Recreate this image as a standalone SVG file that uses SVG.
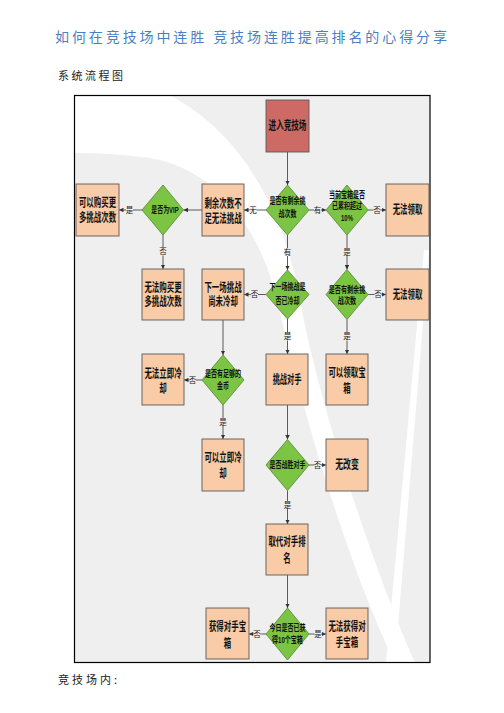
<svg xmlns="http://www.w3.org/2000/svg" width="504" height="713" viewBox="0 0 504 713">
<defs>
<style>
.box{fill:#F9CBA7;stroke:#5a5a5a;stroke-width:0.9}
.start{fill:#CD6A65;stroke:#5a5a5a;stroke-width:0.9}
.dia{fill:#7CC443;stroke:#5E8F35;stroke-width:0.9}
.bt{font-family:"Liberation Sans","Noto Sans CJK SC","Noto Sans CJK JP",sans-serif;font-size:12px;font-weight:bold;fill:#111;text-anchor:middle;dominant-baseline:central}
.dt{font-family:"Liberation Sans","Noto Sans CJK SC","Noto Sans CJK JP",sans-serif;font-size:9px;font-weight:bold;fill:#111;text-anchor:middle;dominant-baseline:central}
.ln{fill:none;stroke:#4a4a4a;stroke-width:0.9;marker-end:url(#ah)}
.lb{font-family:"Liberation Sans","Noto Sans CJK SC","Noto Sans CJK JP",sans-serif;font-size:7.5px;fill:#222;text-anchor:middle;dominant-baseline:central}
.lbg{fill:#EFEFEF}
</style>
<marker id="ah" viewBox="0 0 10 10" refX="10" refY="5" markerWidth="4.5" markerHeight="4.5" orient="auto" markerUnits="userSpaceOnUse">
<path d="M0,0 L10,5 L0,10 Z" fill="#333"/>
</marker>
<clipPath id="fc"><rect x="74.5" y="95.5" width="355.5" height="567"/></clipPath>
</defs>
<rect width="504" height="713" fill="#fff"/>
<text x="55" y="42" textLength="392" lengthAdjust="spacing" font-family="'Noto Sans CJK SC','Noto Sans CJK JP',sans-serif" font-size="14" fill="#4A7FC4">如何在竞技场中连胜 竞技场连胜提高排名的心得分享</text>
<text x="58" y="80" textLength="65" lengthAdjust="spacing" font-family="'Noto Sans CJK SC','Noto Sans CJK JP',sans-serif" font-size="11" fill="#222">系统流程图</text>
<text x="58" y="684" textLength="59" lengthAdjust="spacing" font-family="'Noto Sans CJK SC','Noto Sans CJK JP',sans-serif" font-size="11" fill="#222">竞技场内:</text>
<g id="background" clip-path="url(#fc)">
<rect x="74.5" y="95.5" width="355.5" height="567" fill="#EFEFEF"/>
<path d="M74,96 L171,96 C235,130 282,200 300,300 C318,400 370,560 415,663 L395,663 C345,560 300,400 277,300 C262,235 220,170 150,158 C120,154 95,153 74,153 Z" fill="#fff"/>
<path d="M424,250 L429,250 L395,663 L386,663 Z" fill="#fff"/>
</g>
<rect x="74.5" y="95.5" width="355.5" height="567" fill="none" stroke="#000" stroke-width="1.2"/>
<g id="connectors">
<path class="ln" d="M287.5,152 V185"/>
<path class="ln" d="M266,210 H244"/>
<path class="ln" d="M202,210 H183.5"/>
<path class="ln" d="M142,210 H119"/>
<path class="ln" d="M163,235 V269"/>
<path class="ln" d="M309,210 H326"/>
<path class="ln" d="M368,210 H386"/>
<path class="ln" d="M287.5,235 V270"/>
<path class="ln" d="M347,235 V269.5"/>
<path class="ln" d="M266,294.5 H244"/>
<path class="ln" d="M368,294.5 H386"/>
<path class="ln" d="M223,320 V355"/>
<path class="ln" d="M202,380 H184"/>
<path class="ln" d="M223,405 V439"/>
<path class="ln" d="M287.5,319 V354"/>
<path class="ln" d="M347,319.5 V354"/>
<path class="ln" d="M287.5,405 V439.5"/>
<path class="ln" d="M309,465 H326"/>
<path class="ln" d="M287.5,490.5 V524"/>
<path class="ln" d="M287.5,575 V608"/>
<path class="ln" d="M266,634 H249"/>
<path class="ln" d="M309,634 H326"/>
<rect class="lbg" x="249.5" y="206" width="7" height="8"/><text class="lb" x="253" y="210">无</text>
<rect class="lbg" x="126" y="206" width="7" height="8"/><text class="lb" x="129.5" y="210">是</text>
<rect class="lbg" x="159.5" y="247.5" width="7" height="8"/><text class="lb" x="163" y="251.5">否</text>
<rect class="lbg" x="314" y="206" width="7" height="8"/><text class="lb" x="317.5" y="210">有</text>
<rect class="lbg" x="373.5" y="206" width="7" height="8"/><text class="lb" x="377" y="210">否</text>
<rect class="lbg" x="284" y="248" width="7" height="8"/><text class="lb" x="287.5" y="252">有</text>
<rect class="lbg" x="343.5" y="248" width="7" height="8"/><text class="lb" x="347" y="252">是</text>
<rect class="lbg" x="251" y="290.5" width="7" height="8"/><text class="lb" x="254.5" y="294.5">否</text>
<rect class="lbg" x="374.5" y="290.5" width="7" height="8"/><text class="lb" x="378" y="294.5">否</text>
<rect class="lbg" x="284" y="332.5" width="7" height="8"/><text class="lb" x="287.5" y="336.5">是</text>
<rect class="lbg" x="343.5" y="332.5" width="7" height="8"/><text class="lb" x="347" y="336.5">是</text>
<rect class="lbg" x="189" y="376" width="7" height="8"/><text class="lb" x="192.5" y="380">否</text>
<rect class="lbg" x="219.5" y="418" width="7" height="8"/><text class="lb" x="223" y="422">是</text>
<rect class="lbg" x="314" y="461" width="7" height="8"/><text class="lb" x="317.5" y="465">否</text>
<rect class="lbg" x="284" y="501" width="7" height="8"/><text class="lb" x="287.5" y="505">是</text>
<rect class="lbg" x="253.5" y="630" width="7" height="8"/><text class="lb" x="257" y="634">否</text>
<rect class="lbg" x="314.5" y="630" width="7" height="8"/><text class="lb" x="318" y="634">是</text>
</g>
<g id="n1"><rect class="start" x="266" y="100" width="43" height="52"/><g transform="translate(287.5,0) scale(0.63,1)"><text class="bt" x="0" y="126">进入竞技场</text></g></g>
<g id="n2"><polygon class="dia" points="287.5,185 309,210 287.5,235 266,210"/><g transform="translate(287.5,0) scale(0.67,1)"><text class="dt"><tspan x="0" y="200.5">是否有剩余挑</tspan><tspan x="0" y="213">战次数</tspan></text></g></g>
<g id="n3"><rect class="box" x="202" y="184" width="42" height="52"/><g transform="translate(223,0) scale(0.62,1)"><text class="bt"><tspan x="0" y="203">剩余次数不</tspan><tspan x="0" y="218">足无法挑战</tspan></text></g></g>
<g id="n4"><polygon class="dia" points="163,185 183.5,210 163,235 142,210"/><g transform="translate(165,0) scale(0.66,1)"><text class="dt" x="0" y="210">是否为VIP</text></g></g>
<g id="n5"><rect class="box" x="76" y="184" width="43" height="52"/><g transform="translate(97.5,0) scale(0.62,1)"><text class="bt"><tspan x="0" y="202">可以购买更</tspan><tspan x="0" y="217">多挑战次数</tspan></text></g></g>
<g id="n6"><polygon class="dia" points="347,185 368,210 347,235 326,210"/><g transform="translate(347,0) scale(0.67,1)"><text class="dt"><tspan x="0" y="194">当前宝箱是否</tspan><tspan x="0" y="205.5">已累积超过</tspan><tspan x="0" y="217.5">10%</tspan></text></g></g>
<g id="n7"><rect class="box" x="386" y="184" width="43" height="52"/><g transform="translate(407.5,0) scale(0.62,1)"><text class="bt" x="0" y="210">无法领取</text></g></g>
<g id="n8"><rect class="box" x="142" y="269" width="42" height="51"/><g transform="translate(163,0) scale(0.62,1)"><text class="bt"><tspan x="0" y="287">无法购买更</tspan><tspan x="0" y="301">多挑战次数</tspan></text></g></g>
<g id="n9"><rect class="box" x="202" y="269" width="42" height="51"/><g transform="translate(223,0) scale(0.62,1)"><text class="bt"><tspan x="0" y="287">下一场挑战</tspan><tspan x="0" y="301">尚未冷却</tspan></text></g></g>
<g id="n10"><polygon class="dia" points="287.5,270 309,294.5 287.5,319 266,294.5"/><g transform="translate(287.5,0) scale(0.67,1)"><text class="dt"><tspan x="0" y="286.5">下一场挑战是</tspan><tspan x="0" y="300">否已冷却</tspan></text></g></g>
<g id="n11"><polygon class="dia" points="347,269.5 368,294.5 347,319.5 326,294.5"/><g transform="translate(347,0) scale(0.68,1)"><text class="dt"><tspan x="0" y="290">是否有剩余挑</tspan><tspan x="0" y="301">战次数</tspan></text></g></g>
<g id="n12"><rect class="box" x="386" y="269" width="43" height="51"/><g transform="translate(407.5,0) scale(0.62,1)"><text class="bt" x="0" y="295">无法领取</text></g></g>
<g id="n13"><rect class="box" x="142" y="354" width="42" height="51"/><g transform="translate(163,0) scale(0.62,1)"><text class="bt"><tspan x="0" y="373">无法立即冷</tspan><tspan x="0" y="388">却</tspan></text></g></g>
<g id="n14"><polygon class="dia" points="223,355 244,380 223,405 202,380"/><g transform="translate(223,0) scale(0.67,1)"><text class="dt"><tspan x="0" y="373.5">是否有足够的</tspan><tspan x="0" y="385.5">金币</tspan></text></g></g>
<g id="n15"><rect class="box" x="266" y="354" width="42" height="51"/><g transform="translate(287,0) scale(0.6,1)"><text class="bt" x="0" y="379.5">挑战对手</text></g></g>
<g id="n16"><rect class="box" x="326" y="354" width="42" height="51"/><g transform="translate(347,0) scale(0.62,1)"><text class="bt"><tspan x="0" y="372">可以领取宝</tspan><tspan x="0" y="388">箱</tspan></text></g></g>
<g id="n17"><rect class="box" x="202" y="439" width="42" height="52"/><g transform="translate(223,0) scale(0.62,1)"><text class="bt"><tspan x="0" y="457">可以立即冷</tspan><tspan x="0" y="473">却</tspan></text></g></g>
<g id="n18"><polygon class="dia" points="287.5,439.5 309,465 287.5,490.5 266,465"/><g transform="translate(287.5,0) scale(0.67,1)"><text class="dt" x="0" y="465">是否战胜对手</text></g></g>
<g id="n19"><rect class="box" x="326" y="439" width="42" height="52"/><g transform="translate(347,0) scale(0.66,1)"><text class="bt" x="0" y="465">无改变</text></g></g>
<g id="n20"><rect class="box" x="266" y="524" width="42" height="51"/><g transform="translate(287,0) scale(0.62,1)"><text class="bt"><tspan x="0" y="541">取代对手排</tspan><tspan x="0" y="558">名</tspan></text></g></g>
<g id="n21"><polygon class="dia" points="287.5,608 309,634 287.5,660 266,634"/><g transform="translate(287.5,0) scale(0.67,1)"><text class="dt"><tspan x="0" y="627">今日是否已获</tspan><tspan x="0" y="639.5">得10个宝箱</tspan></text></g></g>
<g id="n22"><rect class="box" x="206" y="608" width="43" height="51"/><g transform="translate(227.5,0) scale(0.62,1)"><text class="bt"><tspan x="0" y="626">获得对手宝</tspan><tspan x="0" y="643">箱</tspan></text></g></g>
<g id="n23"><rect class="box" x="326" y="608" width="42" height="51"/><g transform="translate(347,0) scale(0.62,1)"><text class="bt"><tspan x="0" y="626">无法获得对</tspan><tspan x="0" y="642">手宝箱</tspan></text></g></g>
</svg>
